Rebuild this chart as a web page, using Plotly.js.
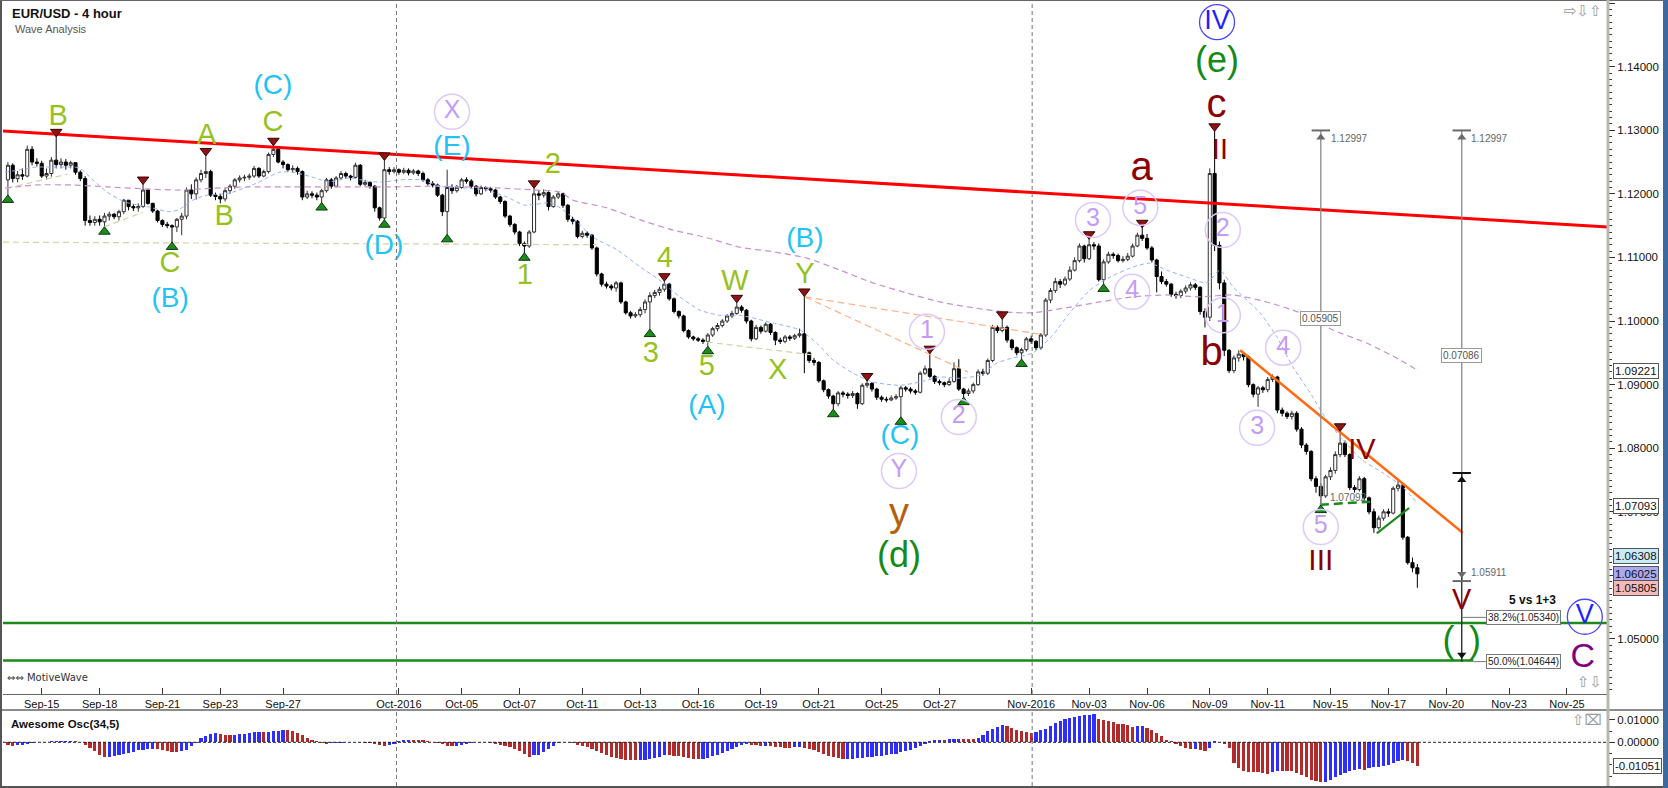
<!DOCTYPE html>
<html><head><meta charset="utf-8">
<script src="https://cdn.plot.ly/plotly-3.0.1.min.js"></script>
<style>html,body{margin:0;padding:0;background:#fff;overflow:hidden}#chart{width:1668px;height:788px}</style>
</head><body><div id="chart"></div>
<script>
// ================= DATA =================
// candle index: 6 bars per weekday, 1 bar on Sunday; index -1 = first bar shown
const firstIndex = -1;
const firstOpen = 1.1222;
const closes = [
 1.1245,1.1224,1.1230,1.1228,1.1270,1.1250,1.1248,1.1228,1.1232,1.1253,1.1246,
 1.1250,1.1245,1.1249,1.1234,1.1224,1.1158,1.1155,1.1160,1.1156,1.1165,
 1.1168,1.1164,1.1172,1.1190,1.1180,1.1178,1.1180,1.1206,1.1185,1.1173,
 1.1158,1.1152,1.1150,1.1148,1.1160,1.1165,1.1206,1.1200,1.1222,1.1232,
 1.1235,1.1198,1.1196,1.1192,1.1205,1.1212,1.1222,1.1225,1.1226,1.1228,
 1.1240,1.1228,1.1235,1.1262,1.1270,1.1250,1.1246,1.1238,1.1240,1.1235,
 1.1195,1.1200,1.1198,1.1195,1.1205,1.1222,1.1212,1.1225,1.1232,1.1228,
 1.1226,1.1245,1.1215,1.1218,1.1212,1.1178,1.1162,1.1238,1.1235,1.1238,
 1.1234,1.1237,1.1233,1.1236,1.1232,1.1222,1.1216,1.1214,1.1198,1.1172,
 1.1210,1.1205,1.1210,1.1222,1.1220,1.1212,1.1200,1.1210,1.1208,1.1206,
 1.1195,1.1188,1.1165,1.1152,1.1140,1.1122,1.1118,1.1140,1.1200,1.1198,
 1.1202,1.1180,1.1195,1.1200,1.1182,1.1160,1.1157,1.1133,1.1138,1.1135,
 1.1115,1.1074,1.1058,1.1055,1.1052,1.1060,1.1030,1.1013,1.1008,1.1010,
 1.1018,1.1030,1.1040,1.1045,1.1050,1.1058,1.1035,1.1015,1.1008,1.0985,
 1.0975,1.0972,1.0970,1.0968,1.0978,1.0988,1.0993,1.1000,1.1008,1.1012,
 1.1022,1.1017,1.1000,1.0972,1.0990,1.0984,1.0995,1.0982,1.0970,1.0968,
 1.0975,1.0973,1.0977,1.0980,1.0950,1.0938,1.0935,1.0906,1.0892,1.0882,
 1.0870,1.0887,1.0885,1.0883,1.0886,1.0870,1.0899,1.0902,1.0893,1.0880,
 1.0877,1.0876,1.0879,1.0881,1.0895,1.0893,1.0890,1.0888,1.0918,1.0925,
 1.0913,1.0905,1.0903,1.0900,1.0905,1.0925,1.0893,1.0886,1.0890,1.0900,
 1.0920,1.0918,1.0938,1.0990,1.0985,1.0990,1.0970,1.0958,1.0950,1.0955,
 1.0972,1.0968,1.0958,1.0978,1.1033,1.1048,1.1062,1.1058,1.1066,1.1080,
 1.1095,1.1118,1.1098,1.1120,1.1118,1.1065,1.1093,1.1105,1.1103,1.1095,
 1.1097,1.1102,1.1118,1.1135,1.1130,1.1115,1.1096,1.1070,1.1062,1.1058,
 1.1042,1.1040,1.1047,1.1052,1.1057,1.1053,1.1015,1.1006,1.1232,1.1119,
 1.1060,1.0954,1.0922,1.0942,1.0948,1.0944,1.0900,1.0885,1.0895,1.0892,
 1.0908,1.0912,1.0860,1.0855,1.0850,1.0855,1.0830,1.0805,1.0795,1.0752,
 1.0740,1.0725,1.0755,1.0765,1.0790,1.0808,1.0790,1.0738,1.0735,1.0752,
 1.0722,1.0700,1.0675,1.0690,1.0700,1.0698,1.0737,1.0742,1.0660,1.0620,
 1.0612,1.06025];
const highs = [
 1.1250,1.1248,1.1236,1.1240,1.1276,1.1275,1.1256,1.1252,1.1240,1.1258,1.1291,
 1.1256,1.1255,1.1252,1.1250,1.1237,1.1228,1.1166,1.1165,1.1166,1.1170,
 1.1172,1.1170,1.1175,1.1192,1.1190,1.1184,1.1185,1.1216,1.1208,1.1186,
 1.1175,1.1160,1.1156,1.1152,1.1162,1.1170,1.1210,1.1215,1.1226,1.1238,
 1.1261,1.1238,1.1202,1.1200,1.1209,1.1215,1.1225,1.1229,1.1230,1.1232,
 1.1244,1.1242,1.1238,1.1265,1.1277,1.1272,1.1253,1.1248,1.1245,1.1243,
 1.1237,1.1205,1.1204,1.1202,1.1208,1.1225,1.1225,1.1228,1.1236,1.1235,
 1.1230,1.1249,1.1247,1.1222,1.1220,1.1214,1.1180,1.1254,1.1242,1.1242,
 1.1240,1.1241,1.1240,1.1239,1.1238,1.1235,1.1225,1.1220,1.1216,1.1200,
 1.1238,1.1215,1.1214,1.1225,1.1226,1.1223,1.1214,1.1213,1.1212,1.1211,
 1.1208,1.1197,1.1190,1.1167,1.1154,1.1142,1.1125,1.1143,1.1210,1.1206,
 1.1207,1.1204,1.1198,1.1204,1.1202,1.1184,1.1164,1.1159,1.1142,1.1141,
 1.1137,1.1117,1.1076,1.1062,1.1058,1.1063,1.1062,1.1032,1.1016,1.1014,
 1.1022,1.1034,1.1045,1.1049,1.1054,1.1064,1.1060,1.1037,1.1017,1.1010,
 1.0987,1.0977,1.0975,1.0973,1.0981,1.0991,1.0997,1.1003,1.1011,1.1016,
 1.1030,1.1025,1.1019,1.1002,1.0994,1.0993,1.0998,1.0997,1.0984,1.0974,
 1.0978,1.0978,1.0980,1.0988,1.1040,1.0952,1.0942,1.0937,1.0908,1.0894,
 1.0884,1.0890,1.0890,1.0888,1.0890,1.0888,1.0902,1.0907,1.0904,1.0895,
 1.0883,1.0881,1.0883,1.0885,1.0898,1.0898,1.0896,1.0893,1.0921,1.0930,
 1.0950,1.0915,1.0908,1.0905,1.0910,1.0935,1.0940,1.0895,1.0894,1.0903,
 1.0924,1.0925,1.0941,1.0994,1.0993,1.1004,1.0993,1.0972,1.0960,1.0958,
 1.0975,1.0977,1.0970,1.0981,1.1036,1.1052,1.1068,1.1066,1.1070,1.1086,
 1.1100,1.1122,1.1120,1.1130,1.1124,1.1122,1.1097,1.1109,1.1108,1.1106,
 1.1102,1.1107,1.1122,1.1139,1.1148,1.1137,1.1118,1.1098,1.1078,1.1066,
 1.1060,1.1046,1.1050,1.1056,1.1061,1.1060,1.1055,1.1020,1.1240,1.12997,
 1.1125,1.1065,1.0956,1.0946,1.0954,1.0950,1.0946,1.0902,1.0898,1.0898,
 1.0912,1.0916,1.0914,1.0864,1.0858,1.0859,1.0858,1.0833,1.0808,1.0797,
 1.0756,1.0745,1.0758,1.0770,1.0795,1.0828,1.0812,1.0792,1.0742,1.0756,
 1.0755,1.0724,1.0705,1.0694,1.0704,1.0705,1.0740,1.0750,1.0744,1.0662,
 1.0628,1.0618];
const lows = [
 1.1197,1.1218,1.1218,1.1222,1.1226,1.1245,1.1243,1.1225,1.1222,1.1227,1.1240,
 1.1240,1.1238,1.1240,1.1230,1.1220,1.1150,1.1150,1.1150,1.1150,1.1147,
 1.1158,1.1160,1.1158,1.1168,1.1174,1.1173,1.1172,1.1178,1.1183,1.1170,
 1.1155,1.1148,1.1146,1.1123,1.1140,1.1135,1.1160,1.1192,1.1191,1.1218,
 1.1225,1.1195,1.1190,1.1185,1.1188,1.1200,1.1208,1.1218,1.1220,1.1222,
 1.1225,1.1225,1.1226,1.1232,1.1258,1.1248,1.1240,1.1235,1.1233,1.1230,
 1.1190,1.1192,1.1193,1.1190,1.1185,1.1202,1.1208,1.1210,1.1222,1.1224,
 1.1221,1.1224,1.1212,1.1212,1.1208,1.1172,1.1158,1.1158,1.1230,1.1232,
 1.1230,1.1231,1.1229,1.1230,1.1228,1.1219,1.1213,1.1210,1.1195,1.1165,
 1.1135,1.1200,1.1202,1.1208,1.1216,1.1208,1.1196,1.1198,1.1204,1.1202,
 1.1192,1.1184,1.1162,1.1148,1.1136,1.1118,1.1106,1.1115,1.1138,1.1190,
 1.1194,1.1174,1.1178,1.1192,1.1178,1.1156,1.1152,1.1130,1.1130,1.1131,
 1.1112,1.1070,1.1054,1.1051,1.1048,1.1046,1.1027,1.1010,1.1004,1.1005,
 1.1006,1.1012,1.0986,1.1036,1.1040,1.1046,1.1032,1.1012,1.1004,1.0982,
 1.0972,1.0969,1.0967,1.0964,1.0959,1.0975,1.0984,1.0990,1.0997,1.1005,
 1.1010,1.1013,1.0996,1.0968,1.0970,1.0980,1.0982,1.0978,1.0962,1.0964,
 1.0965,1.0969,1.0970,1.0974,1.0918,1.0934,1.0930,1.0903,1.0888,1.0878,
 1.0860,1.0866,1.0880,1.0878,1.0879,1.0862,1.0868,1.0895,1.0889,1.0876,
 1.0873,1.0872,1.0874,1.0876,1.0848,1.0889,1.0886,1.0884,1.0886,1.0915,
 1.0910,1.0901,1.0899,1.0896,1.0898,1.0903,1.0890,1.0879,1.0882,1.0886,
 1.0898,1.0914,1.0915,1.0935,1.0981,1.0982,1.0966,1.0954,1.0946,1.0939,
 1.0952,1.0964,1.0954,1.0955,1.0975,1.1028,1.1044,1.1052,1.1055,1.1063,
 1.1078,1.1092,1.1092,1.1096,1.1112,1.1062,1.1057,1.1090,1.1098,1.1092,
 1.1092,1.1094,1.1100,1.1116,1.1126,1.1112,1.1092,1.1045,1.1058,1.1054,
 1.1038,1.1035,1.1036,1.1043,1.1048,1.1049,1.1010,1.0990,1.1000,1.1110,
 1.1050,1.0945,1.0918,1.0918,1.0936,1.0938,1.0896,1.0880,1.0865,1.0887,
 1.0888,1.0904,1.0855,1.0850,1.0846,1.0845,1.0826,1.0800,1.0790,1.0748,
 1.0730,1.07092,1.0722,1.0750,1.0760,1.0786,1.0786,1.0734,1.0730,1.0732,
 1.0718,1.0696,1.0667,1.0672,1.0686,1.0692,1.0696,1.0732,1.0656,1.0617,
 1.0605,1.05805];

// Awesome oscillator bars (same indices) and their colours (r = red, b = blue)
const aoValues = [
 -0.0012,-0.0015,-0.0012,-0.0010,-0.0006,-0.0002,0.0002,0.0003,0.0003,0.0004,0.0004,
 0.0005,0.0006,0.0007,0.0005,0.0001,-0.0010,-0.0025,-0.0040,-0.0055,-0.0067,
 -0.0066,-0.0062,-0.0056,-0.0051,-0.0046,-0.0041,-0.0036,-0.0033,-0.0030,-0.0028,
 -0.0030,-0.0033,-0.0040,-0.0043,-0.0044,-0.0040,-0.0033,-0.0018,-0.0004,0.0019,
 0.0030,0.0037,0.0041,0.0036,0.0033,0.0031,0.0033,0.0036,0.0039,0.0042,
 0.0045,0.0046,0.0044,0.0048,0.0049,0.0052,0.0055,0.0054,0.0050,0.0043,
 0.0033,0.0021,0.0012,0.0005,-0.0003,-0.0006,-0.0004,-0.0002,-0.0001,0.0000,
 0.0000,0.0001,0.0000,-0.0002,-0.0005,-0.0008,-0.0013,-0.0016,-0.0014,-0.0008,
 0.0006,0.0010,0.0011,0.0011,0.0010,0.0009,0.0005,0.0001,-0.0004,-0.0009,
 -0.0015,-0.0018,-0.0018,-0.0012,-0.0006,-0.0002,0.0002,0.0001,0.0000,-0.0002,
 -0.0006,-0.0010,-0.0016,-0.0022,-0.0030,-0.0040,-0.0050,-0.0065,-0.0058,-0.0055,
 -0.0044,-0.0030,-0.0018,-0.0005,0.0003,0.0001,-0.0004,-0.0010,-0.0016,-0.0022,
 -0.0030,-0.0038,-0.0048,-0.0057,-0.0065,-0.0071,-0.0076,-0.0078,-0.0079,-0.0080,
 -0.0079,-0.0077,-0.0074,-0.0070,-0.0064,-0.0057,-0.0058,-0.0060,-0.0062,-0.0065,
 -0.0068,-0.0072,-0.0074,-0.0073,-0.0068,-0.0062,-0.0055,-0.0046,-0.0037,-0.0028,
 -0.0020,-0.0014,-0.0009,-0.0010,-0.0013,-0.0016,-0.0015,-0.0017,-0.0020,-0.0022,
 -0.0024,-0.0025,-0.0022,-0.0020,-0.0025,-0.0030,-0.0035,-0.0043,-0.0052,-0.0060,
 -0.0067,-0.0071,-0.0074,-0.0073,-0.0072,-0.0071,-0.0069,-0.0067,-0.0065,-0.0063,
 -0.0060,-0.0057,-0.0054,-0.0050,-0.0045,-0.0040,-0.0032,-0.0025,-0.0016,-0.0006,
 0.0004,0.0010,0.0012,0.0011,0.0013,0.0015,0.0016,0.0015,0.0014,0.0013,
 0.0019,0.0034,0.0049,0.0061,0.0068,0.0076,0.0071,0.0064,0.0056,0.0052,
 0.0047,0.0043,0.0046,0.0053,0.0059,0.0071,0.0086,0.0096,0.0104,0.0108,
 0.0113,0.0119,0.0121,0.0123,0.0124,0.0105,0.0101,0.0096,0.0090,0.0083,
 0.0081,0.0079,0.0070,0.0072,0.0073,0.0064,0.0056,0.0041,0.0027,0.0012,
 0.0004,-0.0007,-0.0018,-0.0025,-0.0030,-0.0029,-0.0033,-0.0037,-0.0025,0.0007,
 0.0003,-0.0007,-0.0025,-0.0092,-0.0114,-0.0126,-0.0132,-0.0133,-0.0134,-0.0136,
 -0.0139,-0.0133,-0.0126,-0.0127,-0.0128,-0.0129,-0.0136,-0.0147,-0.0156,-0.0166,
 -0.0173,-0.0178,-0.0176,-0.0166,-0.0156,-0.0147,-0.0136,-0.0126,-0.0121,-0.0120,
 -0.0121,-0.0114,-0.0111,-0.0110,-0.0104,-0.0099,-0.0092,-0.0081,-0.0080,-0.0081,
 -0.0092,-0.0105];
const aoColorCodes =
 "rrbbbbbbrbb"+"bbbrrrrrrr"+"bbbbbbbbbb"+"rrrrrbbbbb"+"bbbrrrbbbb"+"bbrbbbbrrr"+
 "rrrrrrbbbb"+"bbrrrrrrbb"+"bbbrrrrrrr"+"rrbbbbbrrr"+"rrrrrrrrbb"+"bbbbbrrrrr"+
 "rrrrrrrrrr"+"bbbbbbrrrr"+"rrrbbbbbbb"+"bbbrrrbrrr"+"rrbbrrrrrr"+"rrrbbbbbbb"+
 "bbbbbbbbbb"+"bbbrbbbrrr"+"bbbbbbrrrr"+"rrbbbbbbbb"+"bbbbbrrrrr"+"rrrbbrrrrr"+
 "rrrrrbrrbb"+"rrrrrrrrrr"+"rbbrrrrrrr"+"rrbbbbbbbb"+"rbbbbbbbbr"+"rr";

// moving averages (index, price)
const fastMaIdx = [-1.6,1.7,4.8,9.2,13.7,16.6,19.5,23.3,28.4,32.2,34.4,37.3,40.2,44.8,50.6,55.2,58.1,61.8,65.5,69.9,74.2,77.3,80.2,84.6,89.1,93.5,98.0,102.4,106.1,111.3,113.4,116.1,120.2,125.2,130.0,134.1,138.2,142.4,146.5,150.7,157.5,163.1,166.6,169.9,174.1,178.2,183.8,187.9,192.1,196.2,200.4,203.9,207.2,211.4,215.5,219.0,223.2,227.3,232.1,235.6,239.1,243.3,247.4,250.1,252.8,258.4,261.9,265.2,268.8,272.3,275.6,279.7,283.9,288.0,290.9];
const fastMaPrice = [1.1234,1.1238,1.1242,1.1242,1.1241,1.1222,1.1203,1.1187,1.1179,1.1172,1.1175,1.1190,1.1198,1.1201,1.1217,1.1234,1.1234,1.1227,1.1219,1.1225,1.1219,1.1219,1.1222,1.1222,1.1211,1.1209,1.1206,1.1195,1.1182,1.1186,1.1178,1.1162,1.1132,1.1112,1.1085,1.1064,1.1038,1.1017,1.1009,1.1009,1.0997,1.0986,1.0965,1.0939,1.0918,1.0904,1.0899,1.0904,1.0912,1.0910,1.0915,1.0934,1.0942,1.0950,1.0978,1.1013,1.1049,1.1069,1.1085,1.1091,1.1080,1.1069,1.1060,1.1080,1.1054,1.1013,1.0975,1.0928,1.0887,1.0844,1.0813,1.0781,1.0761,1.0739,1.0714];
const slowMaIdx = [-1.6,4.8,12.1,19.5,27.0,34.4,41.7,49.2,56.6,63.9,71.3,78.8,86.2,93.5,100.9,108.4,113.4,116.1,123.1,130.0,136.8,143.8,150.7,157.5,164.5,171.4,178.2,185.3,192.1,198.9,206.0,211.4,218.4,225.2,232.1,239.1,246.0,252.8,259.8,266.7,273.5,280.6,287.4,290.9];
const slowMaPrice = [1.1209,1.1214,1.1214,1.1211,1.1208,1.1206,1.1209,1.1211,1.1211,1.1211,1.1211,1.1211,1.1212,1.1211,1.1209,1.1206,1.1203,1.1190,1.1178,1.1159,1.1143,1.1131,1.1116,1.1109,1.1099,1.1080,1.1060,1.1044,1.1030,1.1021,1.1014,1.1013,1.1021,1.1030,1.1038,1.1041,1.1038,1.1041,1.1030,1.1013,1.0986,1.0965,1.0939,1.0923];

// swing markers (candle indices)
const swingHighIdx = [9,27,40,54,77,108,135,150,164,177,190,205,223,234,249,275];
const swingLowIdx = [-1,19,33,64,77,90,106,132,144,170,184,197,209,226,271];

// date axis
const tickIdx = [6,18,31,43,56,80,93,105,118,130,142,155,167,180,192,211,223,235,248,260,273,285,297,310,322];
const tickLabels = ['Sep-15','Sep-18','Sep-21','Sep-23','Sep-27','Oct-2016','Oct-05','Oct-07','Oct-11','Oct-13','Oct-16','Oct-19','Oct-21','Oct-25','Oct-27','Nov-2016','Nov-03','Nov-06','Nov-09','Nov-11','Nov-15','Nov-17','Nov-20','Nov-23','Nov-25'];
const monthIdx = [79.5, 211.2];

// drawn lines (index, price pairs)
const resistIdx = [-2.02, 330.5], resistPrice = [1.1299, 1.1148];
const downIdx = [254.3, 300.4], downPrice = [1.0954, 1.0667];
const sup1Idx = [-2.02, 330.5], sup1Price = [1.0525, 1.0525];
const sup2Idx = [-2.02, 302.6], sup2Price = [1.0466, 1.0466];
const gDashIdx = [270.8, 281.2], gDashPrice = [1.0711, 1.0716];
const gDiagIdx = [282.6, 289.3], gDiagPrice = [1.0666, 1.0706];
const fanIdx = [164.1, 197.9, null, 164.1, 213.9], fanPrice = [1.1038, 1.0920, null, 1.1038, 1.0978];
const tanIdx = [-2.02, 121, null, -1.2, 11.4, null, 18.9, 27.0, null, 143.8, 165.5];
const tanPrice = [1.1124, 1.1120, null, 1.1209, 1.1231, null, 1.1148, 1.1171, null, 1.0967, 1.0947];

// measuring tool
const measTop = 1.12997, measEnd1 = 1.07092, measMid = 1.0761, measEnd2 = 1.05911, fib382 = 1.05340, fib500 = 1.04644;
const meas1Idx = 271.0, meas2Idx = 300.2;

// wave labels
const minorText = ['B','A','C','C','B','1','2','4','3','5','W','X','Y'];
const minorIdx = [9.4,40.2,53.9,32.6,43.8,106.1,111.9,135.1,132.2,143.8,149.6,158.5,164.1];
const minorPrice = [1.1319,1.1290,1.1311,1.1088,1.1162,1.1069,1.1244,1.1096,1.0947,1.0926,1.1061,1.0920,1.1072];
const cyanText = ['(C)','(B)','(D)','(E)','(B)','(A)','(C)'];
const cyanIdx = [53.9,32.6,76.9,91.0,164.1,143.8,183.8];
const cyanPrice = [1.1368,1.1033,1.1117,1.1272,1.1127,1.0865,1.0818];
const circText = ['X','1','2','Y','3','5','4','2','1','4','3','5'];
const circIdx = [91.0,189.4,196.0,183.6,223.8,233.6,231.9,250.7,250.7,263.2,257.8,271.0];
const circPrice = [1.1329,1.0983,1.0849,1.0764,1.1159,1.1178,1.1046,1.1143,1.1009,1.0958,1.0832,1.0676];
const blueText = ['IV','V'];
const blueIdx = [249.5,325.7];
const bluePrice = [1.1470,1.0535];
const redText = ['a','c','II','b','IV','III','V'];
const redIdx = [233.9,249.4,250.1,248.4,279.5,271.0,300.2];
const redPrice = [1.1238,1.1337,1.1266,1.0947,1.0794,1.0620,1.0558];
const redSize = [40,40,29,40,29,30,29];
const greenText = ['(e)','(d)','(\u2009\u2009)'];
const greenIdx = [249.5,183.6,300.2];
const greenPrice = [1.1405,1.0627,1.0494];
const brownText = ['y'], brownIdx = [183.6], brownPrice = [1.0693];
const purpleText = ['C'], purpleIdx = [325.3], purplePrice = [1.0470];

// price tags on the right axis
const tagValues = [1.09221, 1.07093, 1.06308, 1.06025, 1.05805];
const tagFill = ['#ffffff','#ffffff','#c9ebf8','#a9aaf2','#f6b9b9'];
const aoTag = -0.01051;

// ================= BUILD =================
const FONT = 'Liberation Sans, Arial, sans-serif';
const N = closes.length;
const idx = Array.from({length: N}, (_, k) => firstIndex + k);
const opens = closes.map((c, k) => k === 0 ? firstOpen : closes[k - 1]);
const hi = highs.map((h, k) => Math.max(h, opens[k], closes[k]));
const lo = lows.map((l, k) => Math.min(l, opens[k], closes[k]));

const W = 1668, H = 788, ML = 3, MR = 60, MT = 2, MB = 2;
const PW = W - ML - MR, PH = H - MT - MB;
const px2x = X => (X - ML) / PW;
const px2y = Y => (H - MB - Y) / PH;
const mainDomain = [px2y(694), 1];
const oscDomain = [0, px2y(711)];

const traces = [];
const line = (x, y, color, width, dash, extra) => Object.assign({
  type: 'scatter', mode: 'lines', x, y, line: {color, width, dash: dash || 'solid'},
  hoverinfo: 'skip', showlegend: false, xaxis: 'x', yaxis: 'y', connectgaps: false
}, extra || {});

traces.push(line(tanIdx, tanPrice, '#d3d3a4', 1.2, '6px,4px'));
traces.push(line(slowMaIdx, slowMaPrice, '#c98fd0', 1.2, '6px,4px', {line: {color: '#c98fd0', width: 1.2, dash: '6px,4px', shape: 'spline', smoothing: 0.6}}));
traces.push(line(fastMaIdx, fastMaPrice, '#8fb2ff', 1, '4px,3px', {line: {color: '#8fb2ff', width: 1, dash: '4px,3px', shape: 'spline', smoothing: 0.6}}));
traces.push(line(fanIdx, fanPrice, '#ffb28a', 1.2, '7px,4px'));

traces.push({
  type: 'candlestick', x: idx, open: opens, high: hi, low: lo, close: closes,
  increasing: {line: {color: '#303030', width: 1}, fillcolor: '#ffffff'},
  decreasing: {line: {color: '#000000', width: 1}, fillcolor: '#000000'},
  whiskerwidth: 0, hoverinfo: 'skip', showlegend: false, xaxis: 'x', yaxis: 'y'
});

traces.push(line(resistIdx, resistPrice, '#ff0000', 3));
traces.push(line(sup1Idx, sup1Price, '#1a8a1a', 2.5));
traces.push(line(sup2Idx, sup2Price, '#1a8a1a', 2.5));
traces.push(line(downIdx, downPrice, '#ff6a10', 2.5));
traces.push(line(gDashIdx, gDashPrice, '#1a8a1a', 2.5, '9px,5px'));
traces.push(line(gDiagIdx, gDiagPrice, '#1a8a1a', 2.2));

// measuring tool lines
const capHalf = 1.9;
traces.push(line([meas1Idx, meas1Idx], [measTop, measEnd1], '#8a8a8a', 1.3));
traces.push(line([meas2Idx, meas2Idx], [measTop, measEnd2], '#8a8a8a', 1.3));
traces.push(line([meas2Idx, meas2Idx], [measMid, fib500], '#222222', 1.3));
traces.push(line([meas1Idx - capHalf, meas1Idx + capHalf, null, meas2Idx - capHalf, meas2Idx + capHalf, null, meas2Idx - capHalf, meas2Idx + capHalf],
                 [measTop, measTop, null, measTop, measTop, null, measEnd2, measEnd2], '#6a6a6a', 2));
traces.push(line([meas2Idx - capHalf, meas2Idx + capHalf], [measMid, measMid], '#111111', 2));
traces.push(line([meas2Idx, 305.2, null, 302.6, 305.2], [fib382, fib382, null, fib500, fib500], '#777777', 1));
traces.push({type: 'scatter', mode: 'markers', x: [meas1Idx, meas2Idx, meas2Idx, meas2Idx, meas2Idx],
  y: [measTop - 0.0011, measTop - 0.0011, measMid - 0.0011, measEnd2 + 0.0011, fib500 + 0.0011],
  marker: {symbol: ['triangle-up','triangle-up','triangle-up','triangle-down','triangle-down'], size: 8,
           color: ['#6a6a6a','#6a6a6a','#111','#6a6a6a','#111']},
  hoverinfo: 'skip', showlegend: false, xaxis: 'x', yaxis: 'y', cliponaxis: false});

// swing markers
traces.push({type: 'scatter', mode: 'markers', x: swingHighIdx,
  y: swingHighIdx.map(i => hi[i - firstIndex] + 0.00065),
  marker: {symbol: 'triangle-down', size: 10, color: '#8b1414', line: {color: '#3a0000', width: 1}},
  hoverinfo: 'skip', showlegend: false, xaxis: 'x', yaxis: 'y', cliponaxis: false});
traces.push({type: 'scatter', mode: 'markers', x: swingLowIdx,
  y: swingLowIdx.map(i => lo[i - firstIndex] - 0.00065),
  marker: {symbol: 'triangle-up', size: 10, color: '#1d8a1d', line: {color: '#0a3a0a', width: 1}},
  hoverinfo: 'skip', showlegend: false, xaxis: 'x', yaxis: 'y', cliponaxis: false});

// labels
const textTrace = (text, x, y, color, size) => ({
  type: 'scatter', mode: 'text', x, y, text, textposition: 'middle center',
  textfont: {family: FONT, size, color}, hoverinfo: 'skip', showlegend: false,
  xaxis: 'x', yaxis: 'y', cliponaxis: false});
traces.push(textTrace(minorText, minorIdx, minorPrice, '#97c11f', 29));
traces.push(textTrace(cyanText, cyanIdx, cyanPrice, '#1fc4f4', 28));
traces.push(textTrace(redText, redIdx, redPrice, '#8b0000', redSize));
traces.push(textTrace(greenText, greenIdx, greenPrice, '#168a16', 36));
traces.push(textTrace(brownText, brownIdx, brownPrice, '#b5600c', 40));
traces.push(textTrace(purpleText, purpleIdx, purplePrice, '#800080', 34));
traces.push({type: 'scatter', mode: 'markers+text', x: circIdx, y: circPrice, text: circText,
  textposition: 'middle center', textfont: {family: FONT, size: 25, color: '#c49cf6'},
  marker: {symbol: 'circle-open', size: 35, color: '#ddc9fa', line: {width: 1.5, color: '#ddc9fa'}},
  hoverinfo: 'skip', showlegend: false, xaxis: 'x', yaxis: 'y', cliponaxis: false});
traces.push({type: 'scatter', mode: 'markers+text', x: blueIdx, y: bluePrice, text: blueText,
  textposition: 'middle center', textfont: {family: FONT, size: 27, color: '#1f1fff'},
  marker: {symbol: 'circle-open', size: 35, color: '#4646ff', line: {width: 1.3, color: '#4646ff'}},
  hoverinfo: 'skip', showlegend: false, xaxis: 'x', yaxis: 'y', cliponaxis: false});

// awesome oscillator
traces.push({type: 'bar', x: idx, y: aoValues, width: 0.66,
  marker: {color: aoColorCodes.split('').map(c => c === 'r' ? '#b22a2a' : '#2e2eff'), line: {width: 0}},
  hoverinfo: 'skip', showlegend: false, xaxis: 'x2', yaxis: 'y2'});

// ---------- layout ----------
const shapes = [];
monthIdx.forEach(m => {
  shapes.push({type: 'line', xref: 'x', yref: 'paper', x0: m, x1: m, y0: mainDomain[0], y1: 1, line: {color: '#777', width: 1, dash: '4px,3px'}});
  shapes.push({type: 'line', xref: 'x', yref: 'paper', x0: m, x1: m, y0: 0, y1: oscDomain[1], line: {color: '#777', width: 1, dash: '4px,3px'}});
});
shapes.push({type: 'line', xref: 'x2', yref: 'y2', x0: -2.02, x1: 330.5, y0: 0, y1: 0, line: {color: '#222', width: 1, dash: '3px,2px'}});
// frame pieces
shapes.push({type: 'line', xref: 'paper', yref: 'paper', x0: px2x(0), x1: px2x(1668), y0: px2y(710), y1: px2y(710), line: {color: '#8c8c8c', width: 2}});
shapes.push({type: 'line', xref: 'paper', yref: 'paper', x0: px2x(0), x1: px2x(1668), y0: px2y(787), y1: px2y(787), line: {color: '#555', width: 2}});
shapes.push({type: 'line', xref: 'paper', yref: 'paper', x0: px2x(1), x1: px2x(1), y0: px2y(0), y1: px2y(788), line: {color: '#555', width: 2}});
shapes.push({type: 'line', xref: 'paper', yref: 'paper', x0: px2x(0), x1: px2x(1668), y0: px2y(0.5), y1: px2y(0.5), line: {color: '#666', width: 1}});
shapes.push({type: 'rect', xref: 'paper', yref: 'paper', x0: px2x(1663), x1: px2x(1668), y0: px2y(0), y1: px2y(788), fillcolor: '#3d6a9e', line: {width: 0}});
shapes.push({type: 'line', xref: 'paper', yref: 'paper', x0: px2x(1608), x1: px2x(1608), y0: px2y(0), y1: px2y(786), line: {color: '#b8b8b0', width: 3}});

const annotations = [];
const ann = o => annotations.push(Object.assign({showarrow: false, font: {family: FONT, size: 11, color: '#111'}}, o));
ann({xref: 'paper', yref: 'paper', x: px2x(10), y: px2y(13), xanchor: 'left', yanchor: 'middle', text: '<b>EUR/USD - 4 hour</b>', font: {family: FONT, size: 13, color: '#111'}});
ann({xref: 'paper', yref: 'paper', x: px2x(13), y: px2y(29), xanchor: 'left', yanchor: 'middle', text: 'Wave Analysis', font: {family: FONT, size: 11, color: '#555'}});
ann({xref: 'paper', yref: 'paper', x: px2x(9), y: px2y(724), xanchor: 'left', yanchor: 'middle', text: '<b>Awesome Osc(34,5)</b>', font: {family: FONT, size: 11.5, color: '#111'}});
ann({xref: 'paper', yref: 'paper', x: px2x(5), y: px2y(677), xanchor: 'left', yanchor: 'middle', text: '\u21D4\u21D4 MotiveWave', font: {family: 'DejaVu Sans, ' + FONT, size: 10, color: '#333'}});
ann({xref: 'paper', yref: 'paper', x: px2x(1604), y: px2y(11), xanchor: 'right', yanchor: 'middle', text: '\u21E8\u21E9\u21E7', font: {family: 'DejaVu Sans', size: 15, color: '#9a9a9a'}});
ann({xref: 'paper', yref: 'paper', x: px2x(1604), y: px2y(682), xanchor: 'right', yanchor: 'middle', text: '\u21E7\u21E9', font: {family: 'DejaVu Sans', size: 15, color: '#9a9a9a'}});
ann({xref: 'paper', yref: 'paper', x: px2x(1604), y: px2y(720), xanchor: 'right', yanchor: 'middle', text: '\u21E7\u2327', font: {family: 'DejaVu Sans', size: 15, color: '#9a9a9a'}});

// measuring labels
ann({xref: 'x', yref: 'y', x: meas1Idx + 1.6, y: measTop - 0.0012, xanchor: 'left', yanchor: 'middle', text: measTop.toFixed(5), font: {family: FONT, size: 10, color: '#666'}});
ann({xref: 'x', yref: 'y', x: meas2Idx + 1.6, y: measTop - 0.0012, xanchor: 'left', yanchor: 'middle', text: measTop.toFixed(5), font: {family: FONT, size: 10, color: '#666'}});
ann({xref: 'x', yref: 'y', x: meas1Idx + 1.5, y: measEnd1 + 0.0013, xanchor: 'left', yanchor: 'middle', text: measEnd1.toFixed(5), font: {family: FONT, size: 10, color: '#666'}});
ann({xref: 'x', yref: 'y', x: meas2Idx + 1.4, y: measEnd2 + 0.0013, xanchor: 'left', yanchor: 'middle', text: measEnd2.toFixed(5), font: {family: FONT, size: 10, color: '#666'}});
ann({xref: 'x', yref: 'y', x: meas1Idx, y: 1.1004, xanchor: 'center', yanchor: 'middle', text: (measTop - measEnd1).toFixed(5), bgcolor: '#fff', bordercolor: '#9a9a9a', borderwidth: 1, borderpad: 1, font: {family: FONT, size: 10, color: '#555'}});
ann({xref: 'x', yref: 'y', x: meas2Idx, y: 1.0946, xanchor: 'center', yanchor: 'middle', text: '0.07086', bgcolor: '#fff', bordercolor: '#9a9a9a', borderwidth: 1, borderpad: 1, font: {family: FONT, size: 10, color: '#555'}});
ann({xref: 'x', yref: 'y', x: 305.2, y: fib382, xanchor: 'left', yanchor: 'middle', text: '38.2%(' + fib382.toFixed(5) + ')', bgcolor: '#fff', bordercolor: '#777', borderwidth: 1, borderpad: 1, font: {family: FONT, size: 10, color: '#222'}});
ann({xref: 'x', yref: 'y', x: 305.2, y: fib500, xanchor: 'left', yanchor: 'middle', text: '50.0%(' + fib500.toFixed(5) + ')', bgcolor: '#fff', bordercolor: '#777', borderwidth: 1, borderpad: 1, font: {family: FONT, size: 10, color: '#222'}});
ann({xref: 'x', yref: 'y', x: 320.2, y: 1.0561, xanchor: 'right', yanchor: 'middle', text: '<b>5 vs 1+3</b>', font: {family: FONT, size: 12, color: '#111'}});

// price tags
tagValues.forEach((v, k) => ann({xref: 'paper', yref: 'y', x: 1, y: v, xanchor: 'left', yanchor: 'middle', xshift: 5,
  text: v.toFixed(5), bgcolor: tagFill[k], bordercolor: '#555', borderwidth: 1, borderpad: 1, font: {family: FONT, size: 11.5, color: '#111'}}));
ann({xref: 'paper', yref: 'y2', x: 1, y: aoTag, xanchor: 'left', yanchor: 'middle', xshift: 5,
  text: aoTag.toFixed(5), bgcolor: '#fff', bordercolor: '#555', borderwidth: 1, borderpad: 1, font: {family: FONT, size: 11.5, color: '#111'}});

const layout = {
  width: W, height: H, autosize: false,
  margin: {l: ML, r: MR, t: MT, b: MB, pad: 0},
  paper_bgcolor: '#ffffff', plot_bgcolor: '#ffffff',
  font: {family: FONT, size: 11, color: '#111'},
  showlegend: false, bargap: 0, boxgap: 0.2, boxgroupgap: 0.2,
  xaxis: {domain: [0, 1], range: [-2.02, 330.5], anchor: 'y', tickmode: 'array', tickvals: tickIdx, ticktext: tickLabels,
          ticks: 'inside', ticklen: 6, tickcolor: '#333', tickfont: {family: FONT, size: 11, color: '#111'},
          showgrid: false, zeroline: false, showline: true, linecolor: '#666', linewidth: 1,
          rangeslider: {visible: false}, fixedrange: true},
  xaxis2: {domain: [0, 1], range: [-2.02, 330.5], anchor: 'y2', matches: 'x', showticklabels: false, ticks: '',
           showgrid: false, zeroline: false, showline: false},
  yaxis: {domain: mainDomain, range: [1.04135, 1.15017], side: 'right', anchor: 'x', tick0: 1.0, dtick: 0.01,
          tickformat: '.5f', ticks: 'outside', ticklen: 6, tickcolor: '#333', tickfont: {family: FONT, size: 11.5, color: '#111'},
          minor: {dtick: 0.001, ticks: 'outside', ticklen: 3, tickcolor: '#333', showgrid: false},
          showgrid: false, zeroline: false, showline: false},
  yaxis2: {domain: oscDomain, range: [-0.01942, 0.01391], side: 'right', anchor: 'x2', tickmode: 'array', tickvals: [0, 0.01],
           ticktext: ['0.00000', '0.01000'], ticks: 'outside', ticklen: 6, tickcolor: '#333', tickfont: {family: FONT, size: 11.5, color: '#111'},
           minor: {tickvals: [-0.015, -0.01, -0.005, 0.005], ticks: 'outside', ticklen: 3, tickcolor: '#333'},
           showgrid: false, zeroline: false, showline: false},
  shapes, annotations
};

Plotly.newPlot('chart', traces, layout, {staticPlot: true, displayModeBar: false});
</script>
</body></html>
